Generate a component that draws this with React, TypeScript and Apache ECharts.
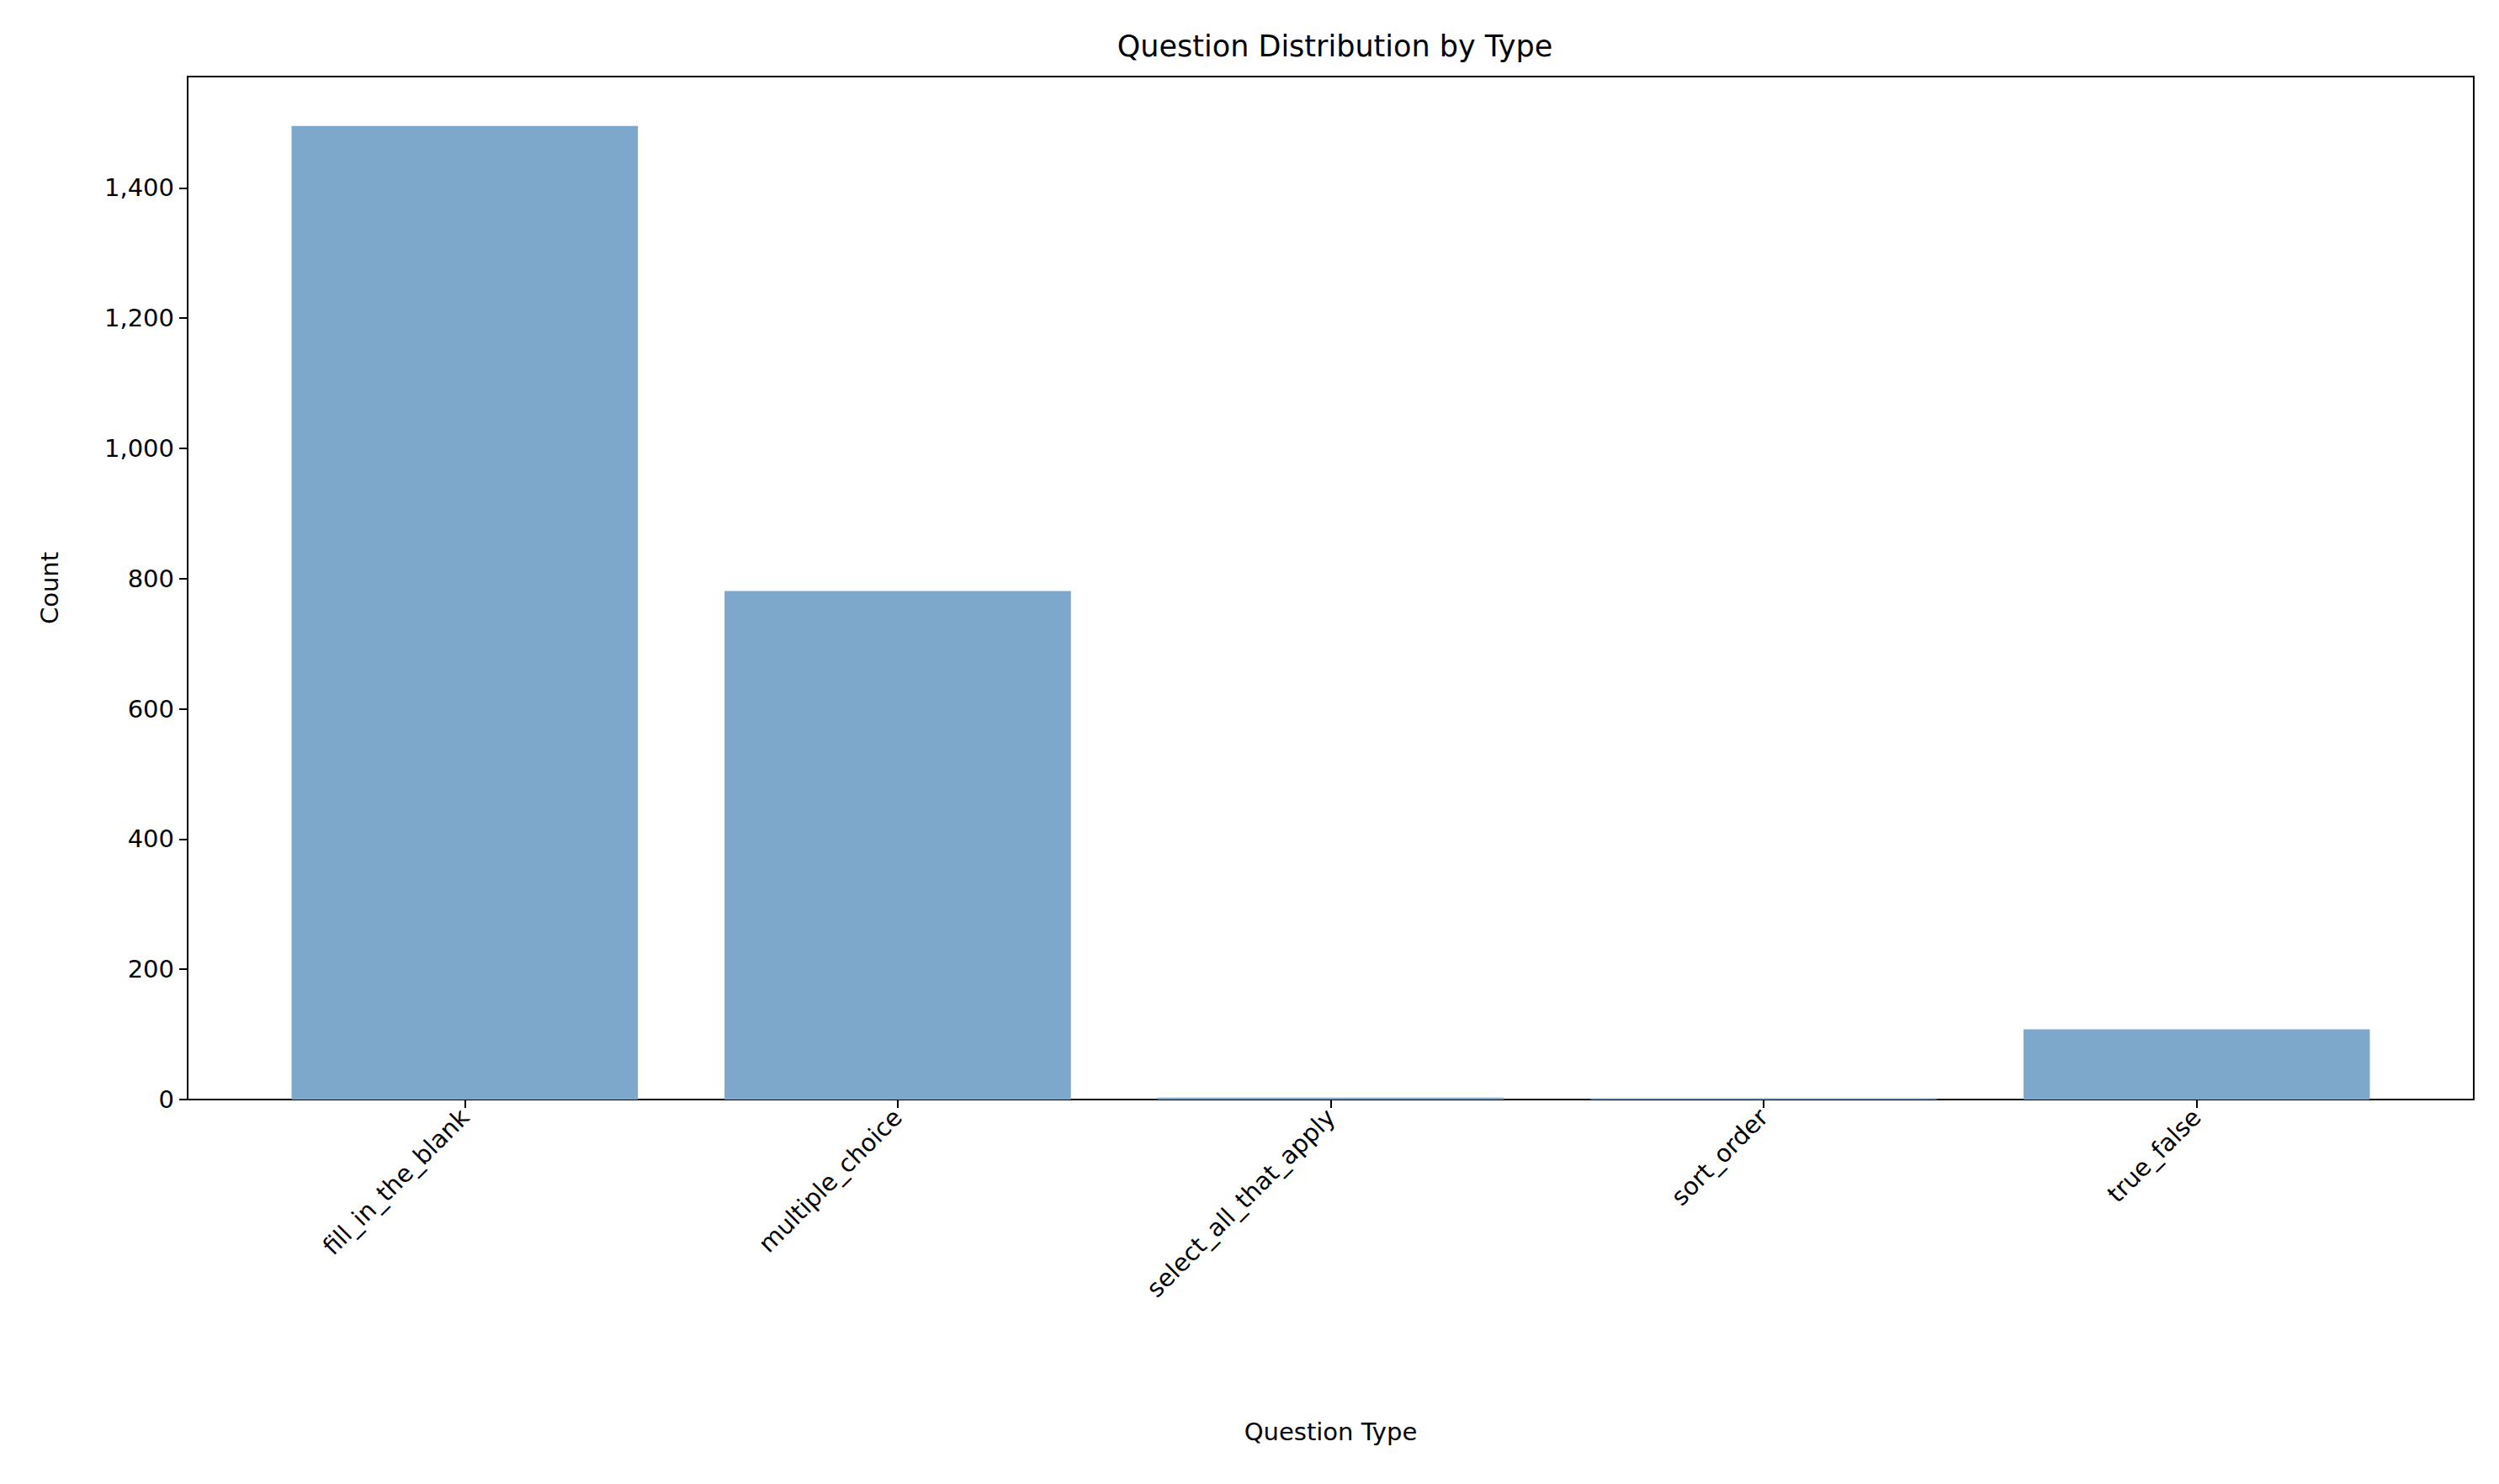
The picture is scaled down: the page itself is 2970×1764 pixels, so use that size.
import React, { useEffect, useRef } from "react";
import * as echarts from "echarts";

const categories = ["fill_in_the_blank", "multiple_choice", "select_all_that_apply", "sort_order", "true_false"];
const counts = [1495, 781, 3, 2, 108];
const yTicksMax = 1571;

export default function App() {
  const ref = useRef<HTMLDivElement>(null);
  useEffect(() => {
    document.body.style.margin = "0";
    const chart = echarts.init(ref.current!, undefined, { renderer: "svg" });
    const font = "DejaVu Sans";
    const W = 2717;
    const cat = W / 5.28;
    const pad = cat * 0.14;
    chart.setOption({
      animation: false,
      textStyle: { fontFamily: font },
      title: {
        text: "Question Distribution by Type",
        left: 223 + W / 2,
        textAlign: "center",
        top: 32,
        textStyle: { fontFamily: font, fontSize: 35, fontWeight: "normal", color: "#000" },
      },
      grid: [
        { left: 223, top: 91, width: W, height: 1216, show: true, borderColor: "#000", borderWidth: 2, backgroundColor: "transparent" },
        { left: 223 + pad, top: 91, width: W - 2 * pad, height: 1216 },
      ],
      xAxis: [
        { type: "value", gridIndex: 0, show: false, min: 0, max: 1 },
        {
          type: "category",
          gridIndex: 1,
          data: categories,
          axisLine: { show: false },
          axisTick: { show: true, alignWithLabel: true, length: 10, lineStyle: { color: "#000", width: 2 } },
          axisLabel: { rotate: 45, fontSize: 29, color: "#000", margin: 16, fontFamily: font },
          name: "Question Type",
          nameLocation: "middle",
          nameGap: 380,
          nameTextStyle: { fontSize: 29, color: "#000", fontFamily: font },
        },
      ],
      yAxis: [
        {
          type: "value",
          gridIndex: 0,
          min: 0,
          max: yTicksMax,
          interval: 200,
          splitLine: { show: false },
          axisLine: { show: false },
          axisTick: { show: true, length: 10, lineStyle: { color: "#000", width: 2 } },
          axisLabel: { fontSize: 29, color: "#000", margin: 16, showMaxLabel: false, fontFamily: font },
          name: "Count",
          nameLocation: "middle",
          nameGap: 150,
          nameTextStyle: { fontSize: 29, color: "#000", fontFamily: font },
        },
        { type: "value", gridIndex: 1, min: 0, max: yTicksMax, show: false, splitLine: { show: false } },
      ],
      series: [
        {
          type: "bar",
          xAxisIndex: 1,
          yAxisIndex: 1,
          data: counts,
          barWidth: "80%",
          itemStyle: { color: "#7EA8CB" },
        },
      ],
    });
    return () => chart.dispose();
  }, []);
  return <div ref={ref} style={{ width: 2970, height: 1764 }} />;
}
